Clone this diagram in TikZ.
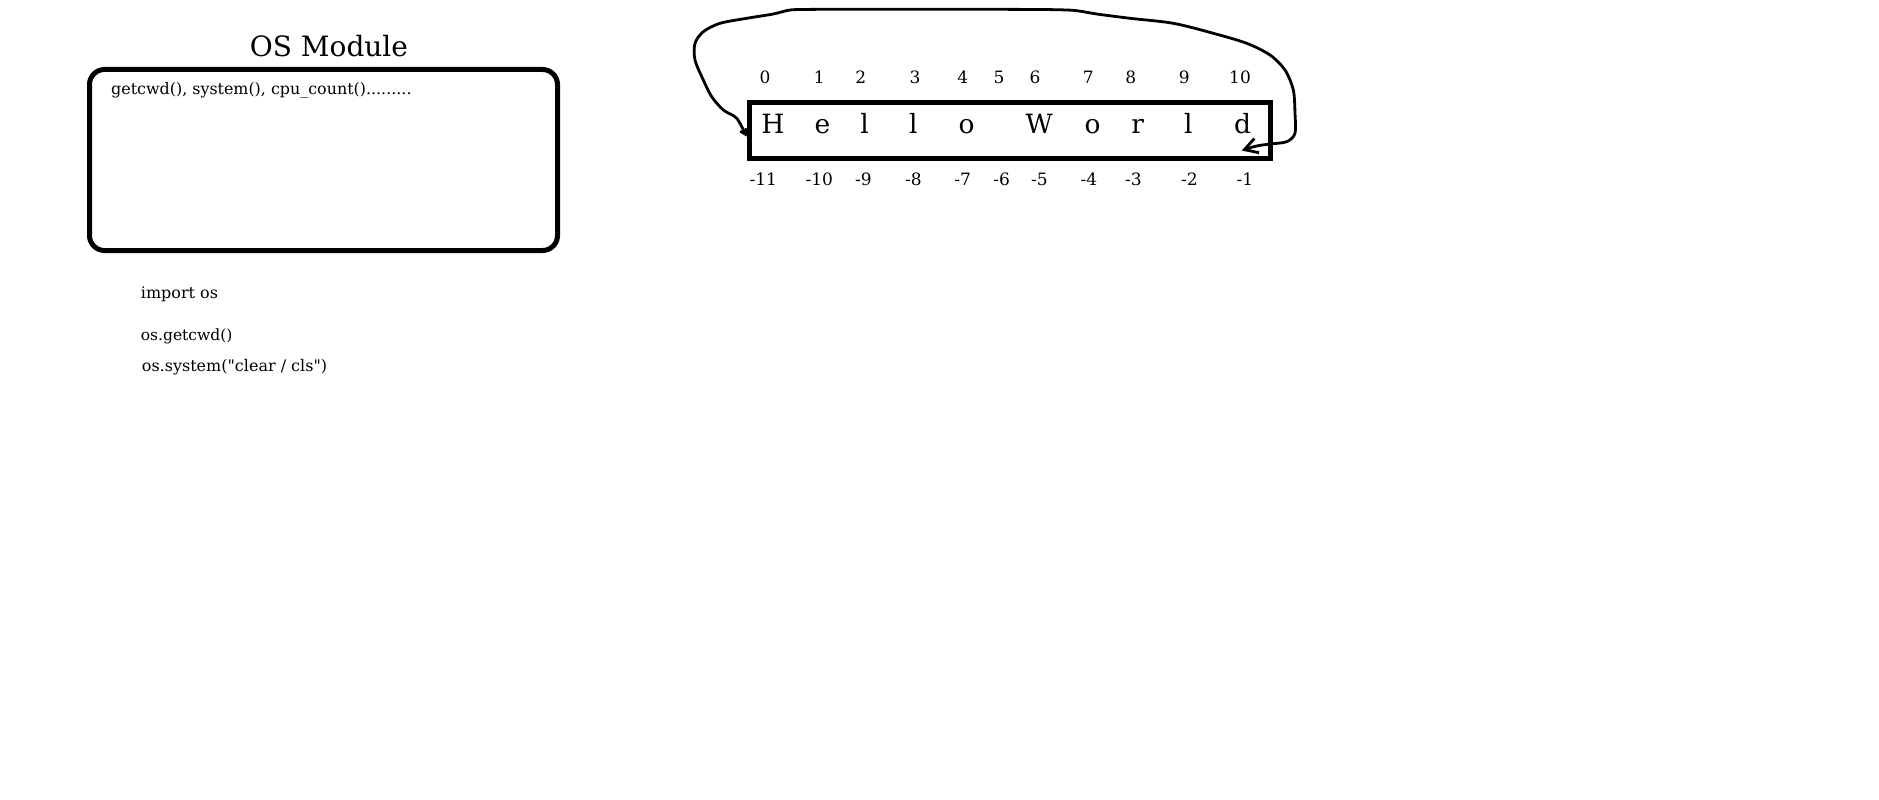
\documentclass[tikz,border=0pt]{standalone}
\usepackage{fontspec}
\setmainfont{DejaVu Serif}[Ligatures=TeXOff]
\usetikzlibrary{arrows.meta}
\begin{document}
\begin{tikzpicture}[x=1pt,y=-1pt,
  box/.style={draw=black,line width=5pt,inner sep=0pt},
  txt/.style={inner sep=0pt,anchor=base,text=black},
  letter/.style={txt,font=\fontsize{26.5}{30}\selectfont},
  idx/.style={txt,font=\fontsize{17}{20}\selectfont},
  code/.style={inner sep=0pt,anchor=base west,text=black,font=\fontsize{16}{19}\selectfont},
  loopline/.style={line width=2.8pt,line cap=round,line join=round}
]
\useasboundingbox (0,0) rectangle (1879,800);

% OS module
\node[txt,font=\fontsize{28}{31}\selectfont] (title) at (329,57) {OS Module};
\node[box,rounded corners=15pt,minimum width=468pt,minimum height=181pt] (osbox) at (323.5,160) {};
\node[code,font=\fontsize{15.9}{19}\selectfont] (funcs) at (111,94) {getcwd(), system(), cpu\_count().........};
\node[code] (imp) at (140.7,298.3) {import os};
\node[code,font=\fontsize{15.5}{19}\selectfont] (gcwd) at (140.7,340) {os.getcwd()};
\node[code] (sys) at (141.7,371.7) {os.system("clear / cls")};

% Hello World box
\node[box,minimum width=521pt,minimum height=56pt] (hw) at (1009.5,130.5) {};
\foreach \ch/\x/\n in {H/772.8/0,e/822.5/1,l/864.7/2,l/913.3/3,o/966.7/4,W/1039.2/6,o/1092.5/7,r/1137.8/8,l/1188.3/9,d/1242.5/10}
  \node[letter] (c\n) at (\x,133.3) {\ch};
\foreach \t/\x in {0/765,1/819.3,2/860.7,3/915,4/962.7,5/999,6/1035,7/1088.3,8/1130.7,9/1184.3,10/1240}
  \node[idx] (t\t) at (\x,84) {\t};
\foreach \t/\x in {11/763.3,10/819.3,9/863.3,8/913.3,7/962.7,6/1001.7,5/1039.3,4/1089,3/1133.3,2/1189.3,1/1245}
  \node[idx] (b\t) at (\x,185) {-\t};

% loop connector
\coordinate (ltip) at ([yshift=-6pt]hw.west);
\coordinate (rtip) at (1241.7,150.5);
\draw[loopline,{Straight Barb[length=13pt,width=15pt,line width=2.8pt]}-{Straight Barb[length=5pt,width=7pt]}]
  plot[smooth,tension=0.5] coordinates {(rtip) (1256.7,146) (1270,144) (1286.7,141.7) (1295,133.3) (1295,113.3) (1293.3,90) (1285,70) (1270,55) (1246.7,43.3) (1213.3,33.3) (1173.3,23.3) (1130,18.3) (1096.7,14) (1075,10.5) (1050,9.6) (1020,9.4) (990,9.3) (960,9.3) (930,9.3) (900,9.3) (870,9.3) (840,9.3) (810,9.4) (790,10) (773.3,14) (746.7,18.3) (720,23.3) (703.3,31.7) (695,43.3) (695,60) (703.3,80) (711.7,96.7) (723.3,110) (736.7,118.3) (ltip)};
\end{tikzpicture}
\end{document}
